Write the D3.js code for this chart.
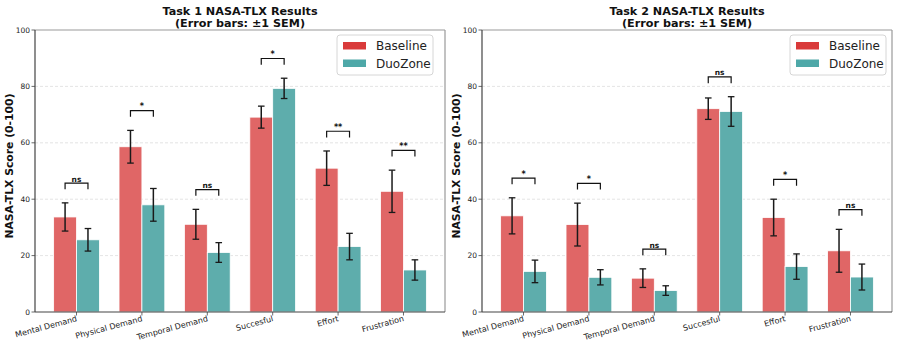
<!DOCTYPE html>
<html><head><meta charset="utf-8">
<script src="https://cdn.jsdelivr.net/npm/d3@7"></script>
<style>body{margin:0;background:#fff}svg{display:block}text{font-family:"DejaVu Sans",sans-serif}</style>
</head><body>
<svg id="c" width="897" height="347"></svg>
<script>
const categories = ["Mental Demand","Physical Demand","Temporal Demand","Succesful","Effort","Frustration"];
const seriesNames = ["Baseline","DuoZone"];
const yTicks = [0,20,40,60,80,100];
const task1Baseline = [33.7,58.6,31.1,69.1,51.0,42.8];
const task1BaselineSem = [5.0,5.8,5.3,3.9,6.1,7.5];
const task1DuoZone = [25.6,38.0,21.1,79.3,23.2,14.9];
const task1DuoZoneSem = [4.0,5.8,3.5,3.6,4.7,3.6];
const task1Sig = ["ns","*","ns","*","**","**"];
const task2Baseline = [34.1,31.0,12.0,72.1,33.5,21.7];
const task2BaselineSem = [6.4,7.6,3.3,3.8,6.5,7.6];
const task2DuoZone = [14.4,12.3,7.6,71.1,16.1,12.4];
const task2DuoZoneSem = [4.0,2.7,1.7,5.25,4.5,4.6];
const task2Sig = ["*","*","ns","ns","*","ns"];

const svg = d3.select("#c");
const barFill = ["#e06666","#5eadac"];
const legendFill = ["#d93a3a","#4ea8a8"];
const bw = 0.35;

function panel(opts){
  const {left,right,title,base,baseSem,duo,duoSem,sig,legX} = opts;
  const top = 30, bottom = 312;
  const x = d3.scaleLinear().domain([-0.635,5.635]).range([left,right]);
  const y = d3.scaleLinear().domain([0,100]).range([bottom,top]);
  const g = svg.append("g");
  g.selectAll(".grid").data(yTicks.filter(t=>t>0&&t<100)).enter().append("line")
    .attr("x1",left).attr("x2",right).attr("y1",d=>y(d)).attr("y2",d=>y(d))
    .attr("stroke","#ddd").attr("stroke-width",0.8).attr("stroke-dasharray","3,2");
  const series = [[base,baseSem],[duo,duoSem]];
  series.forEach((s,si)=>{
    const off = si===0 ? -bw/2 : bw/2;
    g.selectAll(null).data(categories).enter().append("rect")
      .attr("x",(d,i)=>x(i+off-bw/2)).attr("width",x(bw)-x(0))
      .attr("y",(d,i)=>y(s[0][i])).attr("height",(d,i)=>y(0)-y(s[0][i]))
      .attr("fill",barFill[si]).attr("stroke","#fff").attr("stroke-width",0.8);
  });
  series.forEach((s,si)=>{
    const off = si===0 ? -bw/2 : bw/2;
    categories.forEach((c,i)=>{
      const cx = x(i+off), hi = y(s[0][i]+s[1][i]), lo = y(s[0][i]-s[1][i]);
      g.append("line").attr("x1",cx).attr("x2",cx).attr("y1",hi).attr("y2",lo).attr("stroke","#1a1a1a").attr("stroke-width",1.5);
      [hi,lo].forEach(yy=>g.append("line").attr("x1",cx-3.3).attr("x2",cx+3.3).attr("y1",yy).attr("y2",yy).attr("stroke","#1a1a1a").attr("stroke-width",1.3));
    });
  });
  categories.forEach((c,i)=>{
    const m = Math.max(base[i]+baseSem[i], duo[i]+duoSem[i]) + 7;
    const x1 = x(i-bw/2), x2 = x(i+bw/2), yt = y(m), yb = y(m-2.2);
    g.append("path").attr("d",`M${x1},${yb}V${yt}H${x2}V${yb}`).attr("fill","none").attr("stroke","#111").attr("stroke-width",1.2);
    g.append("text").attr("x",(x1+x2)/2).attr("y",yt-1.5).attr("text-anchor","middle")
      .attr("font-size",sig[i]==="ns"?7.5:8).attr("font-weight","bold").attr("fill","#111").text(sig[i]);
  });
  g.append("line").attr("x1",left).attr("x2",right).attr("y1",top).attr("y2",top).attr("stroke","#999").attr("stroke-width",1.2);
  g.append("line").attr("x1",right).attr("x2",right).attr("y1",top).attr("y2",bottom).attr("stroke","#999").attr("stroke-width",1.2);
  g.append("line").attr("x1",left).attr("x2",left).attr("y1",top).attr("y2",bottom).attr("stroke","#444").attr("stroke-width",1.2);
  g.append("line").attr("x1",left).attr("x2",right).attr("y1",bottom).attr("y2",bottom).attr("stroke","#444").attr("stroke-width",1.2);
  yTicks.forEach(t=>{
    g.append("line").attr("x1",left-3.5).attr("x2",left).attr("y1",y(t)).attr("y2",y(t)).attr("stroke","#444").attr("stroke-width",0.8);
    g.append("text").attr("x",left-5).attr("y",y(t)).attr("dy","0.35em").attr("text-anchor","end").attr("font-size",7.5).attr("fill","#222").text(t);
  });
  categories.forEach((c,i)=>{
    g.append("line").attr("x1",x(i)).attr("x2",x(i)).attr("y1",bottom).attr("y2",bottom+3.5).attr("stroke","#444").attr("stroke-width",0.8);
    g.append("text").attr("transform",`translate(${x(i)+1},${bottom+9}) rotate(-15)`).attr("text-anchor","end")
      .attr("font-size",8).attr("fill","#222").text(c);
  });
  g.append("text").attr("transform",`translate(${left-22},166) rotate(-90)`).attr("text-anchor","middle")
    .attr("font-size",10.8).attr("font-weight","bold").attr("fill","#111").text("NASA-TLX Score (0-100)");
  const tcx = (left+right)/2;
  g.append("text").attr("x",tcx).attr("y",14.5).attr("text-anchor","middle").attr("font-size",11.2).attr("font-weight","bold").attr("fill","#111").text(title);
  g.append("text").attr("x",tcx).attr("y",26.5).attr("text-anchor","middle").attr("font-size",11.2).attr("font-weight","bold").attr("fill","#111").text("(Error bars: \u00b11 SEM)");
  const lg = g.append("g").attr("transform",`translate(${legX},35)`);
  lg.append("rect").attr("width",96).attr("height",40).attr("rx",3).attr("fill","#fff").attr("fill-opacity",0.85).attr("stroke","#ccc").attr("stroke-width",0.8);
  seriesNames.forEach((n,k)=>{
    lg.append("rect").attr("x",6).attr("y",7+k*17.5).attr("width",23).attr("height",7.5).attr("fill",legendFill[k]);
    lg.append("text").attr("x",39).attr("y",11+k*17.5).attr("dy","0.35em").attr("font-size",12).attr("fill","#222").text(n);
  });
}

panel({left:35,right:445,title:"Task 1 NASA-TLX Results",base:task1Baseline,baseSem:task1BaselineSem,duo:task1DuoZone,duoSem:task1DuoZoneSem,sig:task1Sig,legX:337});
panel({left:482,right:892,title:"Task 2 NASA-TLX Results",base:task2Baseline,baseSem:task2BaselineSem,duo:task2DuoZone,duoSem:task2DuoZoneSem,sig:task2Sig,legX:790});
</script>
</body></html>
